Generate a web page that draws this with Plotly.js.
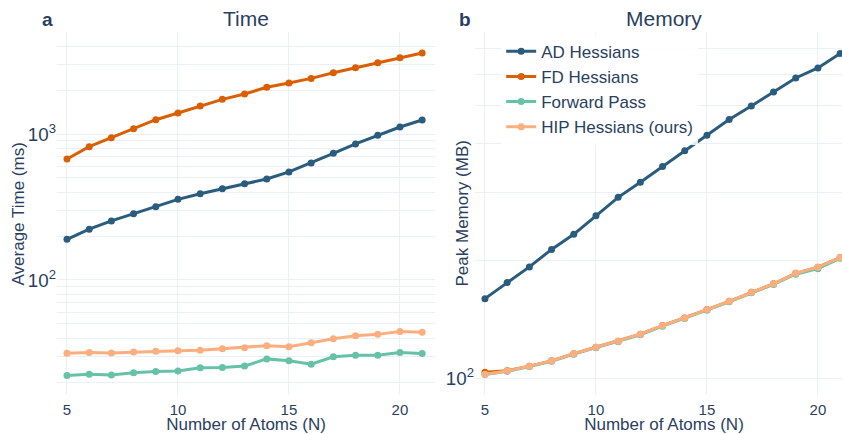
<!DOCTYPE html>
<html>
<head>
<meta charset="utf-8">
<script src="https://cdn.plot.ly/plotly-3.0.1.min.js"></script>
<style>html,body{margin:0;padding:0;overflow:hidden;background:#fff;}</style>
</head>
<body>
<div id="chart"></div>
<script>
const atoms = [5,6,7,8,9,10,11,12,13,14,15,16,17,18,19,20,21];

// Time (ms)
const timeAD  = [190,223,254,284,318,357,390,422,457,492,550,633,737,855,980,1117,1247];
const timeFD  = [675,819,944,1087,1253,1392,1556,1728,1879,2089,2235,2405,2630,2845,3078,3333,3589];
const timeFwd = [22.2,22.6,22.3,23.1,23.6,23.8,25.0,25.1,25.7,28.8,28.0,26.5,29.8,30.5,30.5,31.8,31.3];
const timeHIP = [31.5,31.8,31.6,32.1,32.5,32.8,33.0,33.8,34.3,35.5,34.9,37.2,39.6,41.5,42.4,44.3,43.8];

// Peak memory (MB)
const memAD  = [160,176,193,214,234,261,291,318,349,383,420,461,499,542,589,625,681];
const memFD  = [103.6,104.5,107.4,110.8,115.6,120.0,124.4,129.7,136.5,142.8,150.0,157.5,166.2,174.6,185.8,192.7,204];
const memFwd = [102.2,104.2,107.1,110.5,115.3,119.7,124.0,129.3,136.0,142.3,149.5,157.0,165.6,174.0,184.8,191.0,203];
const memHIP = [102.4,104.4,107.4,110.8,115.6,120.0,124.4,129.7,136.5,142.8,150.0,157.5,166.2,174.6,185.8,192.7,204];

const names = ['AD Hessians','FD Hessians','Forward Pass','HIP Hessians (ours)'];
const colors = ['#2a5c7d','#d95f02','#66c2a5','#fdae7f'];

function tr(y, i, xa, ya, show) {
  return {
    x: atoms, y: y, type: 'scatter', mode: 'lines+markers',
    name: names[i], legendgroup: names[i], showlegend: show,
    line: {color: colors[i], width: 3}, marker: {color: colors[i], size: 7},
    xaxis: xa, yaxis: ya
  };
}

const data = [
  tr(timeAD,0,'x','y',false), tr(timeFD,1,'x','y',false),
  tr(timeFwd,2,'x','y',false), tr(timeHIP,3,'x','y',false),
  tr(memAD,0,'x2','y2',true), tr(memFD,1,'x2','y2',true),
  tr(memFwd,2,'x2','y2',true), tr(memHIP,3,'x2','y2',true)
];

const gc = '#ebf0f8';
const fontCol = '#2a3f5f';
const xax = (dom, anchor) => ({
  domain: dom, anchor: anchor, range: [4.55, 21.58],
  tickvals: [5,10,15,20], showgrid: true, gridcolor: gc, zeroline: false,
  showline: false, ticks: '', ticklabelstandoff: 4, tickfont: {size: 15, color: fontCol},
  title: {text: 'Number of Atoms (N)', font: {size: 17, color: fontCol}, standoff: 0}
});
const yax = (anchor, rng) => ({
  anchor: anchor, type: 'log', range: rng, dtick: 1, exponentformat: 'power',
  showgrid: true, gridcolor: gc, zeroline: false, showline: false, ticks: '',
  tickfont: {size: 15, color: fontCol},
  minor: {dtick: 'D1', showgrid: true, gridcolor: gc, ticks: ''}
});

const ann = (text, x, y, opts) => Object.assign({
  text: text, x: x, y: y, xref: 'paper', yref: 'paper', showarrow: false
}, opts);

const layout = {
  width: 860, height: 434,
  margin: {l: 57, r: 7, t: 32, b: 39},
  paper_bgcolor: '#fff', plot_bgcolor: '#fff',
  font: {family: 'Arial, "Liberation Sans", sans-serif', color: fontCol},
  xaxis: xax([0, 0.4749], 'y'),
  yaxis: yax('x', [1.212, 3.699]),
  xaxis2: xax([0.5251, 1], 'y2'),
  yaxis2: yax('x2', [1.957, 2.888]),
  legend: {x: 0.558, y: 0.995, xanchor: 'left', yanchor: 'top',
           bgcolor: 'rgba(255,255,255,0.85)', font: {size: 17, color: fontCol},
           tracegroupgap: 0, itemwidth: 30},
  showlegend: true,
  annotations: [
    ann('Time', 0.23745, 1, {xanchor: 'center', yanchor: 'bottom', font: {size: 21, color: fontCol}}),
    ann('Memory', 0.76255, 1, {xanchor: 'center', yanchor: 'bottom', font: {size: 21, color: fontCol}}),
    ann('<b>a</b>', 0, 1, {xanchor: 'right', yanchor: 'bottom', xshift: -2, font: {size: 19, color: fontCol}}),
    ann('<b>b</b>', 0.5251, 1, {xanchor: 'right', yanchor: 'bottom', xshift: -2, font: {size: 19, color: fontCol}}),
    ann('Average Time (ms)', -0.0478, 0.5, {xanchor: 'center', yanchor: 'middle', textangle: -90, font: {size: 17, color: fontCol}}),
    ann('Peak Memory (MB)', 0.5088, 0.5, {xanchor: 'center', yanchor: 'middle', textangle: -90, font: {size: 17, color: fontCol}})
  ]
};

Plotly.newPlot('chart', data, layout, {displayModeBar: false, staticPlot: true});
</script>
</body>
</html>
